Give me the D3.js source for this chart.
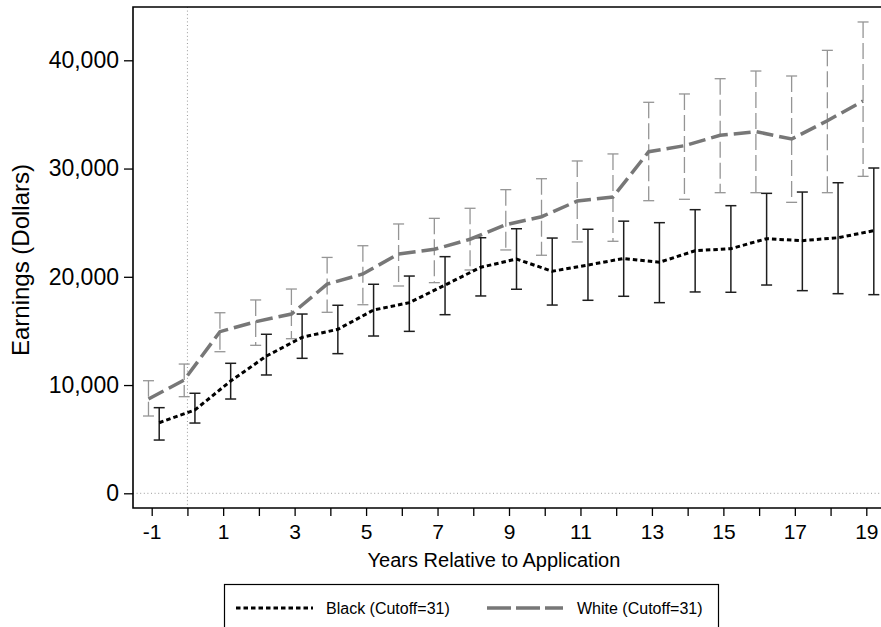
<!DOCTYPE html>
<html>
<head>
<meta charset="utf-8">
<script src="https://cdn.jsdelivr.net/npm/d3@7"></script>
<style>
  body { margin: 0; background: #fff; }
  svg { display: block; font-family: "Liberation Sans", Arial, Helvetica, sans-serif; }
</style>
</head>
<body>
<svg id="drawing_region"></svg>
<script>
// years relative to application
const years = [-1, 0, 1, 2, 3, 4, 5, 6, 7, 8, 9, 10, 11, 12, 13, 14, 15, 16, 17, 18, 19];
const xTickLabels = [-1, 1, 3, 5, 7, 9, 11, 13, 15, 17, 19];
const yTicks = [0, 10000, 20000, 30000, 40000];

// Black (Cutoff=31)
const blackMean = [6520, 7700, 10370, 12680, 14410, 15150, 16930, 17610, 19240, 20880, 21640, 20510, 21090, 21690, 21340, 22410, 22600, 23520, 23340, 23610, 24260];
const blackLow  = [4920, 6490, 8710, 10930, 12470, 12900, 14530, 14960, 16500, 18230, 18850, 17390, 17830, 18200, 17610, 18600, 18570, 19240, 18720, 18440, 18350];
const blackHigh = [7910, 9240, 12010, 14690, 16560, 17370, 19310, 20070, 21860, 23610, 24440, 23580, 24390, 25140, 25000, 26200, 26570, 27710, 27830, 28690, 30050];

// White (Cutoff=31)
const whiteMean = [8710, 10470, 14930, 15850, 16560, 19320, 20260, 22110, 22540, 23470, 24810, 25550, 27000, 27370, 31560, 32110, 33070, 33410, 32730, 34420, 36240];
const whiteLow  = [7140, 8925, 13080, 13670, 14280, 16720, 17420, 19150, 19460, 20630, 22480, 21990, 23220, 23280, 27030, 27160, 27770, 27770, 26880, 27770, 29280];
const whiteHigh = [10400, 11940, 16680, 17860, 18870, 21790, 22870, 24880, 25400, 26330, 28050, 29060, 30700, 31350, 36120, 36890, 38300, 39010, 38550, 40920, 43540];

const width = 881, height = 627;
const plot = { left: 133, top: 7, right: 883, bottom: 508 };

const svg = d3.select('#drawing_region')
    .attr('width', width)
    .attr('height', height);

const xscale = d3.scaleLinear().domain([-1, 19]).range([151.7, 866.3]);
const yscale = d3.scaleLinear().domain([0, 40000]).range([493.3, 60.3]);

// horizontal offsets of the two series (they are drawn side by side)
const whiteShift = -0.09, blackShift = 0.21;

const black = years.map((y, i) => ({ x: y + blackShift, m: blackMean[i], lo: blackLow[i], hi: blackHigh[i] }));
const white = years.map((y, i) => ({ x: y + whiteShift, m: whiteMean[i], lo: whiteLow[i], hi: whiteHigh[i] }));

// reference lines (dotted)
svg.append('line')
    .attr('x1', plot.left).attr('x2', plot.right)
    .attr('y1', yscale(0)).attr('y2', yscale(0))
    .attr('stroke', '#9a9a9a').attr('stroke-width', 1).attr('stroke-dasharray', '1,2.6');
svg.append('line')
    .attr('x1', xscale(0)).attr('x2', xscale(0))
    .attr('y1', plot.top).attr('y2', plot.bottom)
    .attr('stroke', '#9a9a9a').attr('stroke-width', 1).attr('stroke-dasharray', '1,2.6');

// error bars
function errorBars(data, cls, color, sw, dash) {
    const g = svg.append('g').attr('class', cls);
    g.selectAll('line.v')
        .data(data)
        .join('line')
        .attr('class', 'v')
        .attr('x1', d => xscale(d.x)).attr('x2', d => xscale(d.x))
        .attr('y1', d => yscale(d.hi)).attr('y2', d => yscale(d.lo))
        .attr('stroke', color).attr('stroke-width', sw)
        .attr('stroke-dasharray', dash);
    ['hi', 'lo'].forEach(k => {
        g.selectAll('line.c' + k)
            .data(data)
            .join('line')
            .attr('class', 'c' + k)
            .attr('x1', d => xscale(d.x) - 5.5).attr('x2', d => xscale(d.x) + 5.5)
            .attr('y1', d => yscale(d[k])).attr('y2', d => yscale(d[k]))
            .attr('stroke', color).attr('stroke-width', sw);
    });
}
errorBars(white, 'white-bars', '#959595', 1.3, '16,5');
errorBars(black, 'black-bars', '#1e1e1e', 1.5, null);

const line = d3.line().x(d => xscale(d.x)).y(d => yscale(d.m));

svg.append('path')
    .datum(white)
    .attr('d', line)
    .attr('fill', 'none')
    .attr('stroke', '#777')
    .attr('stroke-width', 3.5)
    .attr('stroke-dasharray', '17,6');

svg.append('path')
    .datum(black)
    .attr('d', line)
    .attr('fill', 'none')
    .attr('stroke', '#000')
    .attr('stroke-width', 3)
    .attr('stroke-dasharray', '4.5,3');

// frame
svg.append('path')
    .attr('d', `M${plot.right},${plot.top}H${plot.left}V${plot.bottom}H${plot.right}`)
    .attr('fill', 'none').attr('stroke', '#000').attr('stroke-width', 1.6);

// axes
const yaxis = d3.axisLeft(yscale).tickValues(yTicks).tickSize(9).tickPadding(5).tickFormat(d3.format(','));
const yaxis_group = svg.append('g')
    .attr('transform', `translate(${plot.left},0)`)
    .call(yaxis);
yaxis_group.select('.domain').remove();
yaxis_group.selectAll('line').attr('stroke-width', 1.3);
yaxis_group.selectAll('text').attr('font-size', 23).attr('font-family', null).attr('fill', '#000');

const xaxis = d3.axisBottom(xscale).tickValues(years).tickSize(8).tickPadding(8)
    .tickFormat(d => xTickLabels.includes(d) ? d : '');
const xaxis_group = svg.append('g')
    .attr('transform', `translate(0,${plot.bottom})`)
    .call(xaxis);
xaxis_group.select('.domain').remove();
xaxis_group.selectAll('line').attr('stroke-width', 1.3);
xaxis_group.selectAll('text').attr('font-size', 21).attr('font-family', null).attr('fill', '#000');

// axis titles
svg.append('text')
    .attr('x', 494).attr('y', 567)
    .attr('text-anchor', 'middle')
    .attr('font-size', 20)
    .text('Years Relative to Application');

svg.append('text')
    .attr('transform', 'translate(29,260) rotate(-90)')
    .attr('text-anchor', 'middle')
    .attr('font-size', 24)
    .text('Earnings (Dollars)');

// legend
const legend = svg.append('g');
legend.append('rect')
    .attr('x', 224.5).attr('y', 584.5).attr('width', 494).attr('height', 60)
    .attr('fill', 'none').attr('stroke', '#000').attr('stroke-width', 1.2);
legend.append('line')
    .attr('x1', 236).attr('x2', 313).attr('y1', 608).attr('y2', 608)
    .attr('stroke', '#000').attr('stroke-width', 3).attr('stroke-dasharray', '4.5,3');
legend.append('text')
    .attr('x', 326).attr('y', 614).attr('font-size', 16)
    .text('Black (Cutoff=31)');
legend.append('line')
    .attr('x1', 487).attr('x2', 563).attr('y1', 608).attr('y2', 608)
    .attr('stroke', '#777').attr('stroke-width', 3.5).attr('stroke-dasharray', '24,5');
legend.append('text')
    .attr('x', 577).attr('y', 614).attr('font-size', 16)
    .text('White (Cutoff=31)');
</script>
</body>
</html>
